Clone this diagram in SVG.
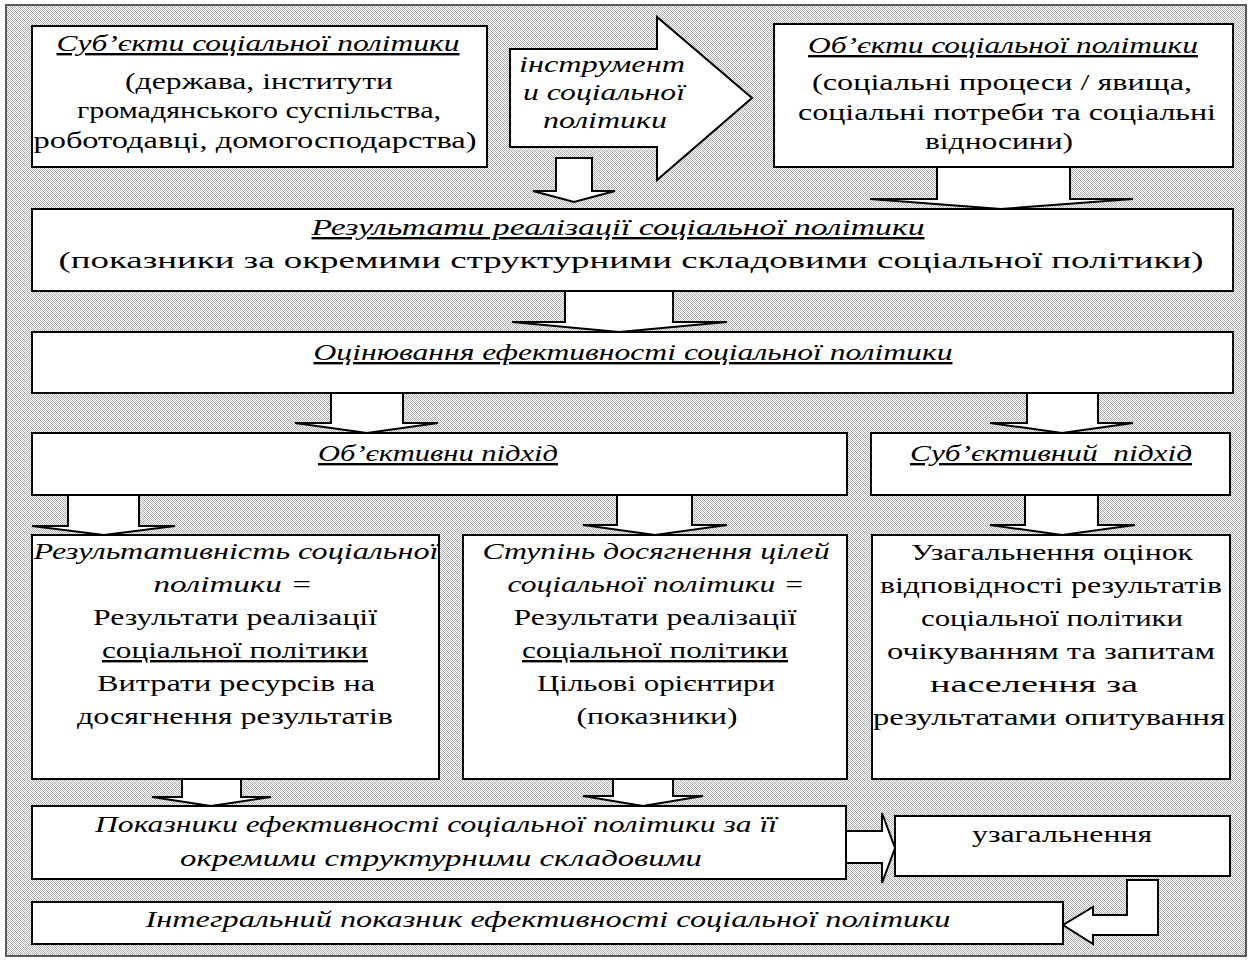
<svg xmlns="http://www.w3.org/2000/svg" width="1252" height="961" viewBox="0 0 1252 961">
<defs>
<pattern id="bg" width="4" height="4" patternUnits="userSpaceOnUse">
<rect width="4" height="4" fill="#fafafa"/>
<rect x="0" y="0" width="1" height="1" fill="#a8a8a8"/>
<rect x="2" y="0" width="1" height="1" fill="#c0c0c0"/>
<rect x="1" y="1" width="1" height="1" fill="#a8a8a8"/>
<rect x="3" y="1" width="1" height="1" fill="#c0c0c0"/>
<rect x="0" y="2" width="1" height="1" fill="#c0c0c0"/>
<rect x="2" y="2" width="1" height="1" fill="#a8a8a8"/>
<rect x="1" y="3" width="1" height="1" fill="#c0c0c0"/>
<rect x="3" y="3" width="1" height="1" fill="#a8a8a8"/>
</pattern>
</defs>
<style>
.box{fill:#fff;stroke:#000;stroke-width:2}
.arr{fill:#fff;stroke:#000;stroke-width:2;stroke-linejoin:miter}
text{font-size:24px;fill:#000;text-anchor:middle}
.i{font-style:italic}
.u{text-decoration:underline}
</style>
<rect x="0" y="0" width="1252" height="961" fill="#fff"/>
<rect x="6" y="5" width="1240" height="951" fill="url(#bg)" stroke="#5a5a5a" stroke-width="2"/>

<g id="connectors">
<polygon class="arr" points="510,49 657,49 657,17 752,98 657,180 657,147 510,147"/>
<polygon class="arr" points="556,158 592,158 592,191 615,191 574,202 533,191 556,191"/>
<polygon class="arr" points="937,167 1070,167 1070,199 1133,199 1001,209 870,199 937,199"/>
<polygon class="arr" points="565,291 673,291 673,322 727,322 619,332 512,322 565,322"/>
<polygon class="arr" points="331,393 403,393 403,423 438,423 367,433 295,423 331,423"/>
<polygon class="arr" points="1027,393 1098,393 1098,423 1133,423 1062,433 990,423 1027,423"/>
<polygon class="arr" points="68,495 139,495 139,526 175,526 104,535 32,526 68,526"/>
<polygon class="arr" points="617,495 692,495 692,525 727,525 655,535 583,525 617,525"/>
<polygon class="arr" points="1025,495 1098,495 1098,525 1135,525 1062,535 990,525 1025,525"/>
<polygon class="arr" points="182,779 241,779 241,797 271,797 211,806 152,797 182,797"/>
<polygon class="arr" points="613,779 673,779 673,796 703,796 643,806 583,796 613,796"/>
<polygon class="arr" points="846,831 882,831 882,813 895,848 882,883 882,863 846,863"/>
<polygon class="arr" points="1127,880 1158,880 1158,935 1093,935 1093,944 1063,925 1093,907 1093,915 1127,915"/>
</g>

<g font-family="'Liberation Serif', 'DejaVu Serif', serif">
<g id="arrow-label">
<text class="i" x="602" y="72" textLength="166" lengthAdjust="spacingAndGlyphs">інструмент</text>
<text class="i" x="604" y="100" textLength="162" lengthAdjust="spacingAndGlyphs">и соціальної</text>
<text class="i" x="605" y="128" textLength="124" lengthAdjust="spacingAndGlyphs">політики</text>
</g>

<g id="subjects">
<rect class="box" x="32" y="26" width="455" height="141"/>
<text class="i u" x="258" y="51" textLength="403" lengthAdjust="spacingAndGlyphs">Суб’єкти соціальної політики</text>
<text x="259" y="89" textLength="268" lengthAdjust="spacingAndGlyphs">(держава, інститути</text>
<text x="259" y="118" textLength="364" lengthAdjust="spacingAndGlyphs">громадянського суспільства,</text>
<text x="255" y="148" textLength="443" lengthAdjust="spacingAndGlyphs">роботодавці, домогосподарства)</text>
</g>

<g id="objects">
<rect class="box" x="774" y="24" width="459" height="143"/>
<text class="i u" x="1003" y="53" textLength="390" lengthAdjust="spacingAndGlyphs">Об’єкти соціальної політики</text>
<text x="1002" y="90" textLength="380" lengthAdjust="spacingAndGlyphs">(соціальні процеси / явища,</text>
<text x="1007" y="120" textLength="418" lengthAdjust="spacingAndGlyphs">соціальні потреби та соціальні</text>
<text x="999" y="149" textLength="148" lengthAdjust="spacingAndGlyphs">відносини)</text>
</g>

<g id="results">
<rect class="box" x="32" y="209" width="1201" height="82"/>
<text class="i u" x="618" y="235" textLength="613" lengthAdjust="spacingAndGlyphs">Результати реалізації соціальної політики</text>
<text x="631" y="268" textLength="1145" lengthAdjust="spacingAndGlyphs">(показники за окремими структурними складовими соціальної політики)</text>
</g>

<g id="assessment">
<rect class="box" x="32" y="332" width="1201" height="61"/>
<text class="i u" x="633" y="360" textLength="639" lengthAdjust="spacingAndGlyphs">Оцінювання ефективності соціальної політики</text>
</g>

<g id="objective">
<rect class="box" x="32" y="433" width="815" height="62"/>
<text class="i u" x="438" y="461" textLength="240" lengthAdjust="spacingAndGlyphs">Об’єктивни підхід</text>
</g>

<g id="subjective">
<rect class="box" x="871" y="433" width="359" height="62"/>
<text class="i u" x="1051" y="461" xml:space="preserve" textLength="282" lengthAdjust="spacingAndGlyphs">Суб’єктивний  підхід</text>
</g>

<g id="effectiveness">
<rect class="box" x="32" y="535" width="407" height="244"/>
<text class="i" x="236" y="559" textLength="405" lengthAdjust="spacingAndGlyphs">Результативність соціальної</text>
<text class="i" x="233" y="592" textLength="159" lengthAdjust="spacingAndGlyphs">політики =</text>
<text x="235" y="625" textLength="284" lengthAdjust="spacingAndGlyphs">Результати реалізації</text>
<text class="u" x="235" y="658" textLength="266" lengthAdjust="spacingAndGlyphs">соціальної політики</text>
<text x="236" y="691" textLength="278" lengthAdjust="spacingAndGlyphs">Витрати ресурсів на</text>
<text x="235" y="724" textLength="316" lengthAdjust="spacingAndGlyphs">досягнення результатів</text>
</g>

<g id="goals">
<rect class="box" x="463" y="535" width="384" height="244"/>
<text class="i" x="656" y="559" textLength="347" lengthAdjust="spacingAndGlyphs">Ступінь досягнення цілей</text>
<text class="i" x="656" y="592" textLength="297" lengthAdjust="spacingAndGlyphs">соціальної політики =</text>
<text x="655" y="625" textLength="283" lengthAdjust="spacingAndGlyphs">Результати реалізації</text>
<text class="u" x="655" y="658" textLength="266" lengthAdjust="spacingAndGlyphs">соціальної політики</text>
<text x="656" y="691" textLength="238" lengthAdjust="spacingAndGlyphs">Цільові орієнтири</text>
<text x="657" y="724" textLength="161" lengthAdjust="spacingAndGlyphs">(показники)</text>
</g>

<g id="survey">
<rect class="box" x="872" y="535" width="358" height="244"/>
<text x="1052" y="560" textLength="282" lengthAdjust="spacingAndGlyphs">Узагальнення оцінок</text>
<text x="1051" y="593" textLength="342" lengthAdjust="spacingAndGlyphs">відповідності результатів</text>
<text x="1052" y="626" textLength="262" lengthAdjust="spacingAndGlyphs">соціальної політики</text>
<text x="1051" y="659" textLength="328" lengthAdjust="spacingAndGlyphs">очікуванням та запитам</text>
<text x="1034" y="692" textLength="208" lengthAdjust="spacingAndGlyphs">населення за</text>
<text x="1049" y="725" textLength="352" lengthAdjust="spacingAndGlyphs">результатами опитування</text>
</g>

<g id="indicators">
<rect class="box" x="32" y="806" width="814" height="73"/>
<text class="i" x="436" y="832" textLength="682" lengthAdjust="spacingAndGlyphs">Показники ефективності соціальної політики за її</text>
<text class="i" x="441" y="866" textLength="522" lengthAdjust="spacingAndGlyphs">окремими структурними складовими</text>
</g>

<g id="generalization">
<rect class="box" x="895" y="816" width="335" height="60"/>
<text x="1062" y="842" textLength="180" lengthAdjust="spacingAndGlyphs">узагальнення</text>
</g>

<g id="integral">
<rect class="box" x="32" y="902" width="1031" height="42"/>
<text class="i" x="548" y="927" textLength="805" lengthAdjust="spacingAndGlyphs">Інтегральний показник ефективності соціальної політики</text>
</g>
</g>
</svg>
